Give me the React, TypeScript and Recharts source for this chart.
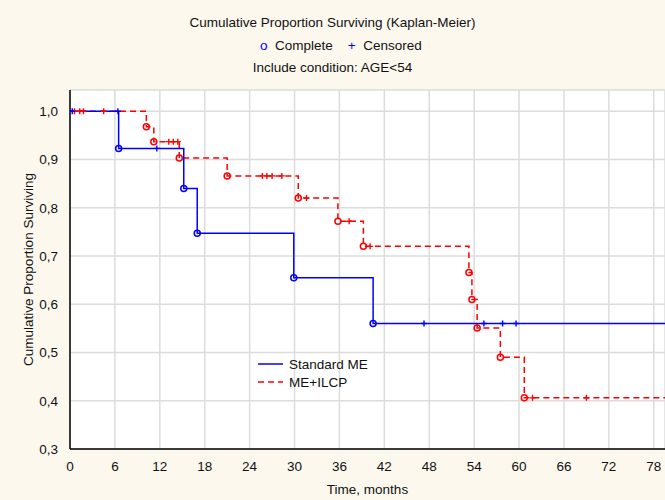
import React from "react";
import {
  CartesianGrid,
  ComposedChart,
  Line,
  Scatter,
  XAxis,
  YAxis,
} from "recharts";

// Standard ME: step curve (time, survival)
const stdTimes = [0, 6.5, 15.2, 17.0, 29.9, 40.5, 79.5];
const stdSurv = [1.0, 0.923, 0.84, 0.747, 0.655, 0.56, 0.56];
const stdCensored = [0.3, 6.4, 11.6, 47.3, 55.3, 57.8, 59.6];

// ME+ILCP
const ilcpTimes = [0, 10.2, 11.2, 14.6, 21.0, 30.5, 35.8, 39.2, 53.3, 53.7, 54.4, 57.5, 60.7, 79.5];
const ilcpSurv = [1.0, 0.968, 0.937, 0.903, 0.866, 0.82, 0.772, 0.72, 0.666, 0.61, 0.551, 0.49, 0.406, 0.406];
const ilcpCensored = [0.6, 1.3, 1.8, 4.5, 13.2, 13.8, 14.4, 25.7, 26.3, 27.0, 28.3, 31.6, 37.3, 40.1, 61.8, 69.0];

const xTicks = [0, 6, 12, 18, 24, 30, 36, 42, 48, 54, 60, 66, 72, 78];
const yTicks = [0.3, 0.4, 0.5, 0.6, 0.7, 0.8, 0.9, 1.0];

const BLUE = "#0000ff";
const RED = "#ff0000";
const FONT = "'Liberation Sans', Arial, sans-serif";
const FS = 13.5;

const steps = (times: number[], surv: number[]) => times.map((t, i) => ({ t, s: surv[i] }));
const events = (times: number[], surv: number[]) =>
  times.slice(1, -1).map((t, i) => ({ t, s: surv[i + 1] }));
const survAt = (times: number[], surv: number[], t: number) => {
  let s = surv[0];
  times.forEach((tt, i) => {
    if (tt <= t) s = surv[i];
  });
  return s;
};
const censored = (cens: number[], times: number[], surv: number[]) =>
  cens.map((t) => ({ t, s: survAt(times, surv, t) }));

const circle = (color: string) => (p: any) => (
  <circle cx={p.cx} cy={p.cy} r={3} fill="none" stroke={color} strokeWidth={1.5} />
);
const plus = (color: string) => (p: any) => (
  <path
    d={`M${p.cx - 3},${p.cy}H${p.cx + 3}M${p.cx},${p.cy - 3}V${p.cy + 3}`}
    stroke={color}
    strokeWidth={1.4}
  />
);

function LegendBox() {
  return (
    <svg
      width={140}
      height={40}
      style={{ position: "absolute", left: 255, top: 355, fontFamily: FONT, fontSize: FS }}
    >
      <line x1={3} y1={9} x2={28} y2={9} stroke={BLUE} strokeWidth={1.5} />
      <text x={34} y={14} fill="#111">Standard ME</text>
      <line x1={3} y1={27} x2={28} y2={27} stroke={RED} strokeWidth={1.5} strokeDasharray="6 4" />
      <text x={34} y={32} fill="#111">ME+ILCP</text>
    </svg>
  );
}

export default function App() {
  return (
    <div
      style={{
        position: "absolute",
        left: 0,
        top: 0,
        width: 665,
        height: 500,
        background: "#fcf8ee",
        fontFamily: FONT,
        color: "#111",
        overflow: "hidden",
      }}
    >
      <div style={{ position: "absolute", top: 15, width: 665, textAlign: "center", fontSize: FS }}>
        Cumulative Proportion Surviving (Kaplan-Meier)
      </div>
      <div style={{ position: "absolute", top: 38, left: 260, fontSize: FS, whiteSpace: "nowrap" }}>
        <span style={{ color: BLUE }}>o</span>&nbsp;&nbsp;Complete&nbsp;&nbsp;&nbsp;&nbsp;
        <span style={{ color: BLUE }}>+</span>&nbsp;&nbsp;Censored
      </div>
      <div style={{ position: "absolute", top: 60, width: 665, textAlign: "center", fontSize: FS }}>
        Include condition: AGE&lt;54
      </div>
      <div style={{ position: "absolute", left: 0, top: 0 }}>
        <ComposedChart
          width={665}
          height={500}
          margin={{ top: 90, right: 0, bottom: 0, left: 0 }}
          style={{ fontFamily: FONT }}
        >
          <CartesianGrid fill="#ffffff" stroke="#dcdcdc" strokeWidth={1.5} />
          <XAxis
            dataKey="t"
            type="number"
            domain={[0, 79.5]}
            ticks={xTicks}
            allowDataOverflow
            height={51}
            tickLine={false}
            axisLine={{ stroke: "#000", strokeWidth: 1.5 }}
            tick={{ fill: "#111", fontSize: FS }}
            tickMargin={6}
            label={{ value: "Time, months", position: "center", dy: 15, fill: "#111", fontSize: FS }}
          />
          <YAxis
            type="number"
            domain={[0.3, 1.044]}
            ticks={yTicks}
            allowDataOverflow
            width={70}
            tickLine={false}
            axisLine={{ stroke: "#000", strokeWidth: 1.5 }}
            tick={{ fill: "#111", fontSize: FS }}
            tickMargin={6}
            tickFormatter={(v: number) => v.toFixed(1).replace(".", ",")}
            label={{
              value: "Cumulative Proportion Surviving",
              angle: -90,
              position: "center",
              dx: -7,
              fill: "#111",
              fontSize: FS,
            }}
          />
          <Line
            data={steps(ilcpTimes, ilcpSurv)}
            dataKey="s"
            type="stepAfter"
            stroke={RED}
            strokeWidth={1.5}
            strokeDasharray="6 4"
            dot={false}
            activeDot={false}
            isAnimationActive={false}
          />
          <Line
            data={steps(stdTimes, stdSurv)}
            dataKey="s"
            type="stepAfter"
            stroke={BLUE}
            strokeWidth={1.5}
            dot={false}
            activeDot={false}
            isAnimationActive={false}
          />
          <Scatter
            data={events(ilcpTimes, ilcpSurv)}
            dataKey="s"
            shape={circle(RED)}
            isAnimationActive={false}
          />
          <Scatter
            data={censored(ilcpCensored, ilcpTimes, ilcpSurv)}
            dataKey="s"
            shape={plus(RED)}
            isAnimationActive={false}
          />
          <Scatter
            data={events(stdTimes, stdSurv)}
            dataKey="s"
            shape={circle(BLUE)}
            isAnimationActive={false}
          />
          <Scatter
            data={censored(stdCensored, stdTimes, stdSurv)}
            dataKey="s"
            shape={plus(BLUE)}
            isAnimationActive={false}
          />
        </ComposedChart>
      </div>
      <LegendBox />
    </div>
  );
}
